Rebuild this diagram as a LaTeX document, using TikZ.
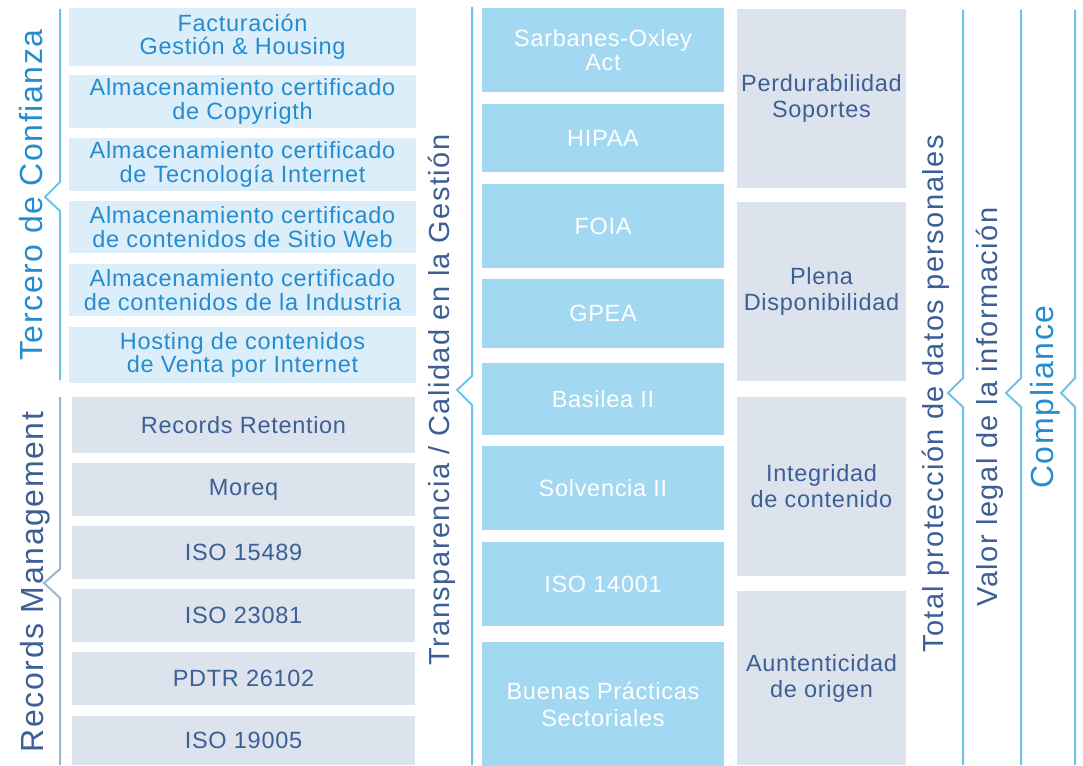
\documentclass[tikz,border=0pt]{standalone}
\usepackage{fontspec}
\setmainfont{Liberation Sans}[LetterSpace=3]
\newfontfamily\labfont{Liberation Sans}[LetterSpace=5]
\usepackage{tikz}
\usetikzlibrary{backgrounds}
\definecolor{colorTC}{RGB}{220,238,250}
\definecolor{colorRM}{RGB}{220,227,236}
\definecolor{colorLEY}{RGB}{162,216,242}
\definecolor{colorBLUE}{RGB}{36,140,207}
\definecolor{colorSLATE}{RGB}{60,95,150}
\definecolor{colorRAMA}{RGB}{110,195,236}
\definecolor{colorRAMARM}{RGB}{160,180,205}
\newcommand{\szBox}{\fontsize{23.5}{23.5}\selectfont}
\newcommand{\szReq}{\fontsize{23.5}{26}\selectfont}
\newcommand{\szTit}{\labfont\fontsize{32}{32}\selectfont}
\newcommand{\szLab}{\labfont\fontsize{29}{29}\selectfont}
\tikzset{
   tc/.style={fill=colorTC,text=colorBLUE,inner sep=0pt,align=center,minimum width=347pt,font=\szBox},
   rm/.style={fill=colorRM,text=colorSLATE,inner sep=0pt,align=center,minimum width=343pt,font=\szBox},
   ley/.style={fill=colorLEY,text=white,inner sep=0pt,align=center,minimum width=242pt,font=\szBox},
   req/.style={fill=colorRM,text=colorSLATE,inner sep=0pt,align=center,minimum width=169pt,font=\szReq},
   rama/.style={color=colorRAMA,line width=2pt,line join=miter},
   ramarm/.style={rama,color=colorRAMARM},
   tit/.style={rotate=90,anchor=base,inner sep=0pt,font=\szTit},
   lab/.style={rotate=90,anchor=base,inner sep=0pt,font=\szLab,text=colorSLATE},
}

\begin{document}
\begin{tikzpicture}[x=1pt,y=-1pt]
  \useasboundingbox (0,0) rectangle (1083,765);

  \node[tc, minimum height=58pt] (fact)  at (242.5, 37)   {Facturación\\Gestión \& Housing};
  \node[tc, minimum height=53pt] (copy)  at (242.5, 101.5) {Almacenamiento certificado\\de Copyrigth};
  \node[tc, minimum height=53pt] (tecno) at (242.5, 164.5) {Almacenamiento certificado\\de Tecnología Internet};
  \node[tc, minimum height=52pt] (sitio) at (242.5, 227)   {Almacenamiento certificado\\de contenidos de Sitio Web};
  \node[tc, minimum height=52pt] (indus) at (242.5, 290)   {Almacenamiento certificado\\de contenidos de la Industria};
  \node[tc, minimum height=56pt] (venta) at (242.5, 355)   {Hosting de contenidos\\de Venta por Internet};

  \node[rm, minimum height=56pt] (retention) at (243.5, 425)   {Records Retention};
  \node[rm, minimum height=53pt] (moreq)     at (243.5, 489.5) {Moreq};
  \node[rm, minimum height=53pt] (iso15489)  at (243.5, 552.5) {ISO 15489};
  \node[rm, minimum height=53pt] (iso23081)  at (243.5, 615.5) {ISO 23081};
  \node[rm, minimum height=53pt] (pdtr)      at (243.5, 678.5) {PDTR 26102};
  \node[rm, minimum height=49pt] (iso19005)  at (243.5, 740.5) {ISO 19005};

  \node[ley, minimum height=84pt]  (sox)       at (603, 50)    {Sarbanes-Oxley\\Act};
  \node[ley, minimum height=68pt]  (hipaa)     at (603, 138)   {HIPAA};
  \node[ley, minimum height=84pt]  (foia)      at (603, 226)   {FOIA};
  \node[ley, minimum height=69pt]  (gpea)      at (603, 313.5) {GPEA};
  \node[ley, minimum height=72pt]  (basilea)   at (603, 399)   {Basilea II};
  \node[ley, minimum height=84pt]  (solvencia) at (603, 488)   {Solvencia II};
  \node[ley, minimum height=84pt]  (iso14001)  at (603, 584)   {ISO 14001};
  \node[ley, minimum height=125pt, font=\fontsize{23.5}{27}\selectfont] (buenas) at (603, 704) {Buenas Prácticas\\Sectoriales};

  \node[req, minimum height=179pt] (perdura) at (821.5, 98.5)  {Perdurabilidad\\Soportes};
  \node[req, minimum height=179pt] (plena)   at (821.5, 291.5) {Plena\\Disponibilidad};
  \node[req, minimum height=179pt] (integra) at (821.5, 486.5) {Integridad\\de contenido};
  \node[req, minimum height=174pt] (autent)  at (821.5, 678)   {Auntenticidad\\de origen};

  \draw[rama]   (60,9)    -- (60,182) -- (45,197)   -- (60,211) -- (60,380);
  \draw[ramarm] (60,397)  -- (60,569) -- (44,583)   -- (60,598) -- (60,765);
  \draw[rama]   (472,7)   -- (472,376) -- (457,390) -- (472,405) -- (472,765);
  \draw[rama]   (963,10)  -- (963,378) -- (948,393) -- (963,407) -- (963,765);
  \draw[rama]   (1021,10) -- (1021,378) -- (1006,393) -- (1021,407) -- (1021,765);
  \draw[rama]   (1075,10) -- (1075,378) -- (1061,393) -- (1075,407) -- (1075,765);

  \node[tit, text=colorBLUE]  (tercero)    at (42, 195)   {Tercero de Confianza};
  \node[tit, text=colorSLATE] (records)    at (43, 582)   {Records Management};
  \node[lab]                  (transp)     at (449, 400)  {Transparencia / Calidad en la Gestión};
  \node[lab]                  (proteccion) at (943, 394)  {Total protección de datos personales};
  \node[lab]                  (valor)      at (997, 407)  {Valor legal de la información};
  \node[tit, text=colorBLUE]  (compliance) at (1053, 397) {Compliance};
\end{tikzpicture}
\end{document}
